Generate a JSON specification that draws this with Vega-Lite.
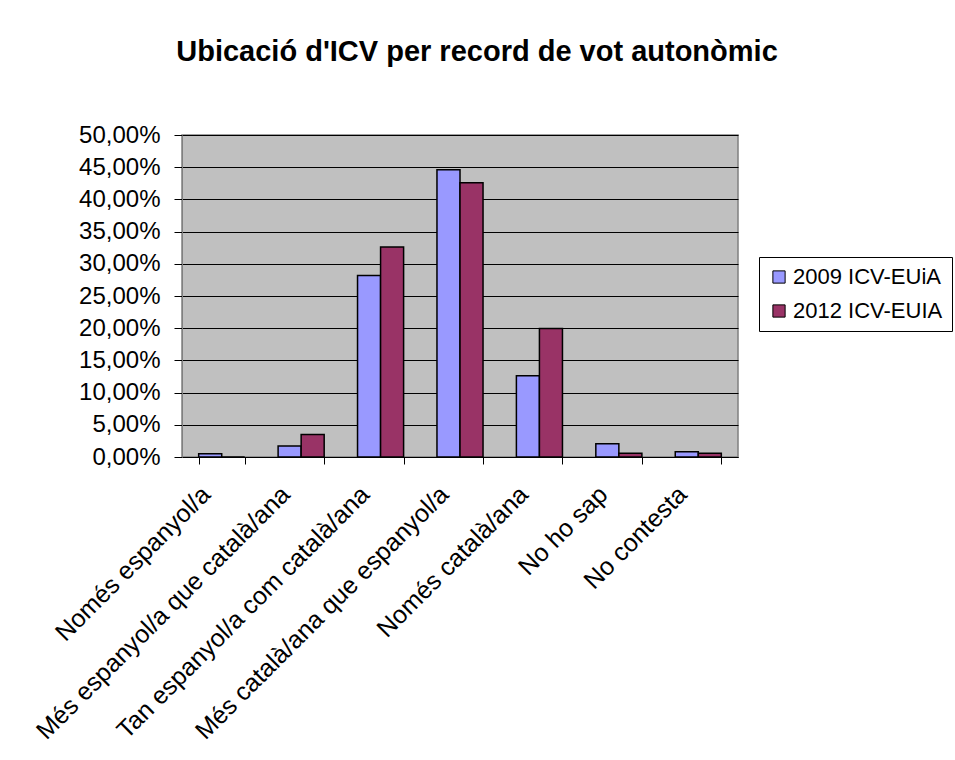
{
  "$schema": "https://vega.github.io/schema/vega-lite/v6.json",
  "autosize": "none",
  "width": 556,
  "height": 322,
  "padding": {"left": 182, "top": 135, "right": 217, "bottom": 303},
  "background": "white",
  "title": {
    "text": "Ubicació d'ICV per record de vot autonòmic",
    "font": "Liberation Sans",
    "fontSize": 29,
    "fontWeight": "bold",
    "color": "black",
    "anchor": "middle",
    "frame": "group",
    "dx": 17,
    "baseline": "alphabetic",
    "offset": 33
  },
  "data": {
    "values": [
      {"category": "Només espanyol/a", "series": "2009 ICV-EUiA", "value": 0.0052},
      {"category": "Només espanyol/a", "series": "2012 ICV-EUIA", "value": 0},
      {"category": "Més espanyol/a que català/ana", "series": "2009 ICV-EUiA", "value": 0.017},
      {"category": "Més espanyol/a que català/ana", "series": "2012 ICV-EUIA", "value": 0.035},
      {"category": "Tan espanyol/a com català/ana", "series": "2009 ICV-EUiA", "value": 0.282},
      {"category": "Tan espanyol/a com català/ana", "series": "2012 ICV-EUIA", "value": 0.326},
      {"category": "Més català/ana que espanyol/a", "series": "2009 ICV-EUiA", "value": 0.446},
      {"category": "Més català/ana que espanyol/a", "series": "2012 ICV-EUIA", "value": 0.426},
      {"category": "Només català/ana", "series": "2009 ICV-EUiA", "value": 0.126},
      {"category": "Només català/ana", "series": "2012 ICV-EUIA", "value": 0.1995},
      {"category": "No ho sap", "series": "2009 ICV-EUiA", "value": 0.0207},
      {"category": "No ho sap", "series": "2012 ICV-EUIA", "value": 0.0057},
      {"category": "No contesta", "series": "2009 ICV-EUiA", "value": 0.0083},
      {"category": "No contesta", "series": "2012 ICV-EUIA", "value": 0.0057}
    ]
  },
  "mark": {"type": "bar", "stroke": "black", "strokeWidth": 1.5},
  "encoding": {
    "x": {
      "field": "category",
      "type": "nominal",
      "sort": null,
      "title": null,
      "scale": {"paddingInner": 0.42, "paddingOuter": 0.21},
      "axis": {
        "labelAngle": -45,
        "labelAlign": "right",
        "labelBaseline": "middle",
        "labelFont": "Liberation Sans",
        "labelFontSize": 25,
        "labelColor": "black",
        "labelPadding": 26,
        "labelOffset": -16,
        "labelLimit": 500,
        "labelOverlap": false,
        "tickBand": "extent",
        "tickSize": 7,
        "tickColor": "black",
        "domainColor": "black",
        "grid": false
      }
    },
    "xOffset": {"field": "series", "type": "nominal"},
    "y": {
      "field": "value",
      "type": "quantitative",
      "title": null,
      "scale": {"domain": [0, 0.5], "nice": false},
      "axis": {
        "values": [0, 0.05, 0.1, 0.15, 0.2, 0.25, 0.3, 0.35, 0.4, 0.45, 0.5],
        "labelExpr": "replace(format(datum.value, '.2%'), '.', ',')",
        "labelFont": "Liberation Sans",
        "labelFontSize": 24,
        "labelColor": "black",
        "labelPadding": 14,
        "labelOverlap": false,
        "tickSize": 8,
        "tickColor": "black",
        "domainColor": "#808080",
        "grid": true,
        "gridColor": "black",
        "gridWidth": 1,
        "gridOpacity": 1
      }
    },
    "color": {
      "field": "series",
      "type": "nominal",
      "scale": {"domain": ["2009 ICV-EUiA", "2012 ICV-EUIA"], "range": ["#9999FF", "#993366"]},
      "legend": {
        "title": null,
        "orient": "none",
        "legendX": 577,
        "legendY": 122,
        "strokeColor": "black",
        "fillColor": "white",
        "padding": 9,
        "labelFont": "Liberation Sans",
        "labelFontSize": 22,
        "labelColor": "black",
        "labelLimit": 400,
        "symbolType": "square",
        "symbolSize": 150,
        "symbolStrokeColor": "black",
        "symbolStrokeWidth": 1,
        "symbolOpacity": 1,
        "rowPadding": 12,
        "labelOffset": 3
      }
    }
  },
  "config": {
    "view": {"fill": "#C0C0C0", "stroke": "#808080", "strokeWidth": 1.5}
  }
}
